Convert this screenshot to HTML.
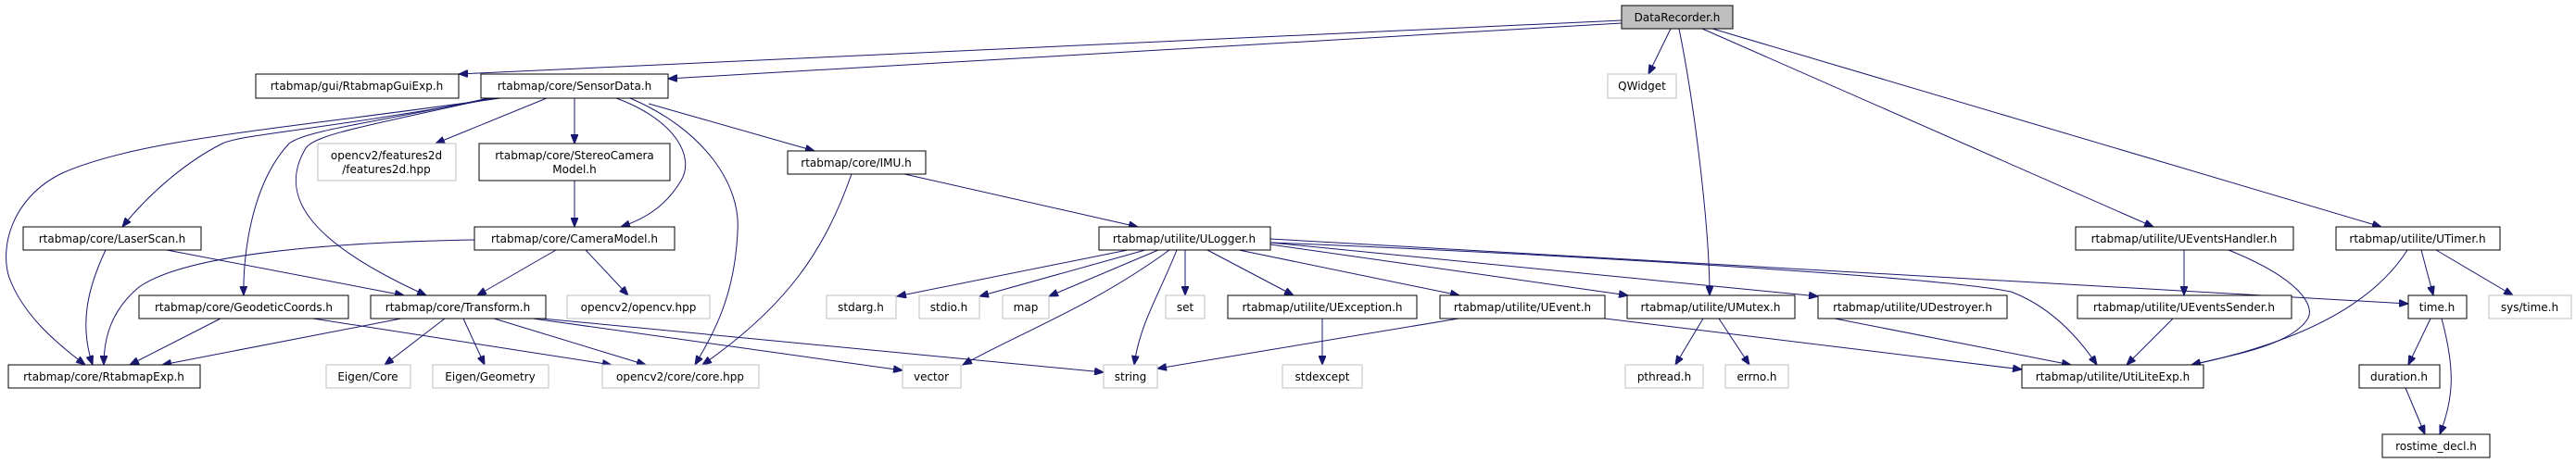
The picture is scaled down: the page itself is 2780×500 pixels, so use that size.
<!DOCTYPE html>
<html><head><meta charset="utf-8"><style>
html,body{margin:0;padding:0;background:#fff;}
svg{display:block;}
text{font-family:"DejaVu Sans","Liberation Sans",sans-serif;font-size:12px;fill:#000;text-anchor:middle;}
.n{fill:#fff;stroke:#000;stroke-width:1;}
.g{fill:#fff;stroke:#bfbfbf;stroke-width:1;}
.e{fill:none;stroke:#191970;stroke-width:1;}
</style></head><body>
<svg width="2780" height="500" viewBox="0 0 2780 500" xmlns="http://www.w3.org/2000/svg">
<defs>
<marker id="a" markerUnits="userSpaceOnUse" markerWidth="11" markerHeight="8" refX="10" refY="4" orient="auto">
<path d="M0,0 L10,4 L0,8 z" fill="#191970" stroke="#191970"/>
</marker>
</defs>
<g marker-end="url(#a)" class="e">
<path class="e" d="M1750,22 L495,80"/>
<path class="e" d="M1750,25 L721,85"/>
<path class="e" d="M1803,31 L1779,80"/>
<path class="e" d="M1812,31 C1830,120 1845,250 1845,319"/>
<path class="e" d="M1837,31 L2324,245"/>
<path class="e" d="M1848,31 L2570,245"/>
<path class="e" d="M540,106 C300,140 150,150 67,187 C10,215 0,270 10,300 C25,340 60,370 92,394"/>
<path class="e" d="M535,106 C350,140 260,145 240,155 C200,175 160,210 132,245"/>
<path class="e" d="M527,106 C420,130 330,140 312,155 C270,200 262,280 263,319"/>
<path class="e" d="M530,106 C400,135 340,145 330,160 C300,210 330,260 460,319"/>
<path class="e" d="M590,106 L470,155"/>
<path class="e" d="M620,106 L620,155"/>
<path class="e" d="M665,106 C730,130 750,170 735,195 C720,220 700,235 670,245"/>
<path class="e" d="M680,106 C760,140 800,200 796,250 C793,320 770,360 750,394"/>
<path class="e" d="M700,112 L879,163"/>
<path class="e" d="M620,195 L620,245"/>
<path class="e" d="M512,259 C350,262 200,275 150,310 C120,335 112,365 112,394"/>
<path class="e" d="M600,270 L515,319"/>
<path class="e" d="M632,270 L678,319"/>
<path class="e" d="M114,270 C95,310 85,350 100,394"/>
<path class="e" d="M180,270 L436,319"/>
<path class="e" d="M238,344 L140,394"/>
<path class="e" d="M338,344 L660,394"/>
<path class="e" d="M433,344 L175,394"/>
<path class="e" d="M480,344 L415,394"/>
<path class="e" d="M500,344 L523,394"/>
<path class="e" d="M533,344 L697,394"/>
<path class="e" d="M575,344 L974,400"/>
<path class="e" d="M585,344 L1191,402"/>
<path class="e" d="M919,188 C890,270 850,330 758,394"/>
<path class="e" d="M976,188 L1228,245"/>
<path class="e" d="M1217,270 L968,320"/>
<path class="e" d="M1236,270 L1057,320"/>
<path class="e" d="M1250,270 L1132,320"/>
<path class="e" d="M1262,270 C1180,330 1100,360 1039,394"/>
<path class="e" d="M1270,270 C1250,320 1230,350 1224,394"/>
<path class="e" d="M1279,270 L1279,319"/>
<path class="e" d="M1303,270 L1396,319"/>
<path class="e" d="M1337,270 L1575,319"/>
<path class="e" d="M1371,264 L1757,319"/>
<path class="e" d="M1371,262 L1962,320"/>
<path class="e" d="M1371,262 C1700,275 2100,300 2170,315 C2210,330 2240,360 2263,394"/>
<path class="e" d="M1371,258 L2599,328"/>
<path class="e" d="M1427,344 L1427,394"/>
<path class="e" d="M1574,344 L1249,398"/>
<path class="e" d="M1732,344 L2182,399"/>
<path class="e" d="M1838,344 L1808,394"/>
<path class="e" d="M1855,344 L1888,394"/>
<path class="e" d="M1980,344 L2235,394"/>
<path class="e" d="M2357,270 L2357,319"/>
<path class="e" d="M2405,270 C2480,300 2500,330 2490,345 C2470,375 2400,385 2365,394"/>
<path class="e" d="M2345,344 L2295,394"/>
<path class="e" d="M2598,270 C2560,330 2480,370 2365,394"/>
<path class="e" d="M2613,270 L2626,319"/>
<path class="e" d="M2629,270 L2712,319"/>
<path class="e" d="M2623,344 L2599,394"/>
<path class="e" d="M2635,344 C2650,400 2648,430 2633,469"/>
<path class="e" d="M2596,419 L2617,469"/>
</g>

<rect x="1750" y="6" width="120" height="25" fill="#bfbfbf" stroke="#000"/><text x="1810" y="23">DataRecorder.h</text>
<rect class="g" x="1735" y="80" width="74" height="26"/><text x="1772" y="97">QWidget</text>
<rect class="n" x="276" y="80" width="219" height="26"/><text x="385" y="97">rtabmap/gui/RtabmapGuiExp.h</text>
<rect class="n" x="519" y="80" width="202" height="26"/><text x="620" y="97">rtabmap/core/SensorData.h</text>
<rect class="g" x="343" y="155" width="149" height="40"/><text x="417" y="172">opencv2/features2d</text><text x="417" y="187">/features2d.hpp</text>
<rect class="n" x="517" y="155" width="206" height="40"/><text x="620" y="172">rtabmap/core/StereoCamera</text><text x="620" y="187">Model.h</text>
<rect class="n" x="850" y="163" width="149" height="25"/><text x="924" y="180">rtabmap/core/IMU.h</text>
<rect class="n" x="25" y="245" width="192" height="25"/><text x="121" y="262">rtabmap/core/LaserScan.h</text>
<rect class="n" x="512" y="245" width="216" height="25"/><text x="620" y="262">rtabmap/core/CameraModel.h</text>
<rect class="n" x="1186" y="245" width="185" height="25"/><text x="1278" y="262">rtabmap/utilite/ULogger.h</text>
<rect class="n" x="2240" y="245" width="235" height="25"/><text x="2357" y="262">rtabmap/utilite/UEventsHandler.h</text>
<rect class="n" x="2521" y="245" width="177" height="25"/><text x="2609" y="262">rtabmap/utilite/UTimer.h</text>
<rect class="n" x="150" y="319" width="226" height="25"/><text x="263" y="336">rtabmap/core/GeodeticCoords.h</text>
<rect class="n" x="400" y="319" width="189" height="25"/><text x="494" y="336">rtabmap/core/Transform.h</text>
<rect class="g" x="612" y="319" width="154" height="25"/><text x="689" y="336">opencv2/opencv.hpp</text>
<rect class="g" x="892" y="319" width="75" height="25"/><text x="929" y="336">stdarg.h</text>
<rect class="g" x="992" y="319" width="65" height="25"/><text x="1024" y="336">stdio.h</text>
<rect class="g" x="1082" y="319" width="50" height="25"/><text x="1107" y="336">map</text>
<rect class="g" x="1258" y="319" width="42" height="25"/><text x="1279" y="336">set</text>
<rect class="n" x="1325" y="319" width="204" height="25"/><text x="1427" y="336">rtabmap/utilite/UException.h</text>
<rect class="n" x="1554" y="319" width="178" height="25"/><text x="1643" y="336">rtabmap/utilite/UEvent.h</text>
<rect class="n" x="1756" y="319" width="181" height="25"/><text x="1846" y="336">rtabmap/utilite/UMutex.h</text>
<rect class="n" x="1962" y="319" width="204" height="25"/><text x="2064" y="336">rtabmap/utilite/UDestroyer.h</text>
<rect class="n" x="2242" y="319" width="231" height="25"/><text x="2357" y="336">rtabmap/utilite/UEventsSender.h</text>
<rect class="n" x="2599" y="319" width="63" height="25"/><text x="2630" y="336">time.h</text>
<rect class="g" x="2686" y="319" width="89" height="25"/><text x="2730" y="336">sys/time.h</text>
<rect class="n" x="9" y="394" width="207" height="25"/><text x="112" y="411">rtabmap/core/RtabmapExp.h</text>
<rect class="g" x="352" y="394" width="91" height="25"/><text x="397" y="411">Eigen/Core</text>
<rect class="g" x="467" y="394" width="125" height="25"/><text x="529" y="411">Eigen/Geometry</text>
<rect class="g" x="650" y="394" width="169" height="25"/><text x="734" y="411">opencv2/core/core.hpp</text>
<rect class="g" x="974" y="394" width="63" height="25"/><text x="1005" y="411">vector</text>
<rect class="g" x="1191" y="394" width="58" height="25"/><text x="1220" y="411">string</text>
<rect class="g" x="1384" y="394" width="86" height="25"/><text x="1427" y="411">stdexcept</text>
<rect class="g" x="1754" y="394" width="84" height="25"/><text x="1796" y="411">pthread.h</text>
<rect class="g" x="1862" y="394" width="68" height="25"/><text x="1896" y="411">errno.h</text>
<rect class="n" x="2182" y="394" width="196" height="25"/><text x="2280" y="411">rtabmap/utilite/UtiLiteExp.h</text>
<rect class="n" x="2546" y="394" width="87" height="25"/><text x="2589" y="411">duration.h</text>
<rect class="n" x="2571" y="469" width="116" height="25"/><text x="2629" y="486">rostime_decl.h</text>
</svg>
</body></html>
